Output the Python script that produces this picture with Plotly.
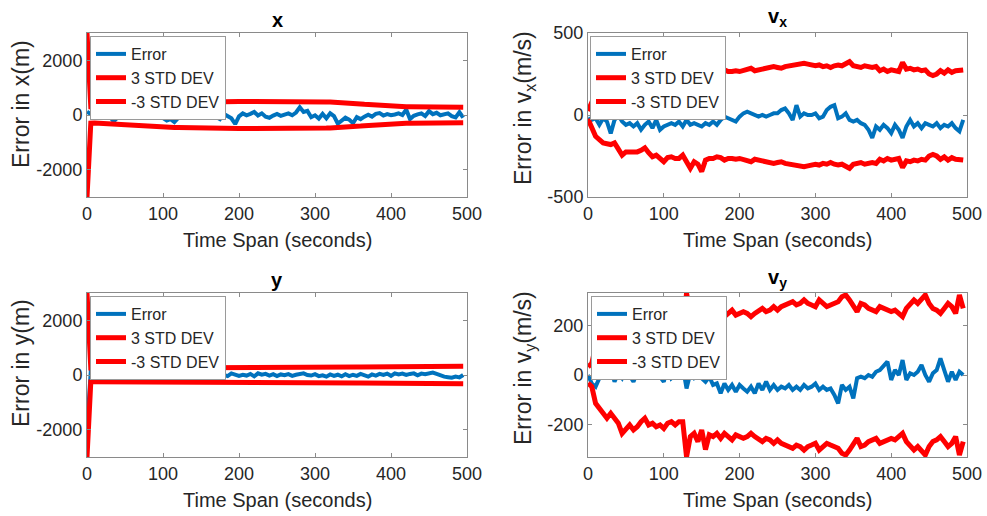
import plotly.graph_objects as go

# Sample times (s)
t = list(range(0, 500, 5))

# Tick labels (plain hyphen for negatives)
time_ticks = [0, 100, 200, 300, 400, 500]
pos_ticks = [-2000, 0, 2000]
pos_tick_text = ["-2000", "0", "2000"]
vx_ticks = [-500, 0, 500]
vx_tick_text = ["-500", "0", "500"]
vy_ticks = [-200, 0, 200]
vy_tick_text = ["-200", "0", "200"]

# ---- position x ----
x_err = [120, 20, -60, -30, -90, 10, -60, -240, -80, 40,
         -20, 50, 80, 20, 100, -30, 110, 60, 180, -20,
         -110, -200, -150, -260, -110, 60, -40, 30, 90, -20,
         120, 240, 60, -30, -70, -150, 40, -60, -120, -330,
         -50, 60, -10, 40, 110, -20, 60, -60, -100, -20,
         40, -30, 20, 60, -10, 90, 280, 110, 150, -80,
         -10, -130, 40, -120, 60, -40, -320, -190, -100, -170,
         -300, -80, -150, -60, 10, -60, 40, 70, -20, 30,
         -10, 20, 60, 0, 200, -150, -30, 20, 60, -40,
         140, 30, 80, -10, 30, 60, -40, -90, 100, -100]
x_std3 = [3000, 300, 290, 300, 310, 320, 330, 340, 350, 360,
          370, 380, 390, 400, 405, 410, 420, 425, 430, 435,
          440, 445, 450, 455, 460, 465, 470, 472, 474, 476,
          478, 480, 482, 484, 486, 488, 490, 492, 494, 495,
          496, 497, 498, 499, 500, 500, 501, 502, 503, 503,
          504, 504, 504, 503, 502, 500, 498, 496, 494, 492,
          490, 486, 482, 478, 474, 470, 465, 458, 450, 440,
          430, 418, 405, 392, 380, 368, 357, 347, 338, 330,
          324, 318, 313, 309, 305, 302, 300, 298, 296, 294,
          292, 291, 290, 289, 288, 287, 286, 285, 285, 285]

# ---- velocity vx ----
vx_err = [-20, -30, -20, -60, -20, -40, -112, -30, 0, -40,
          -60, -50, -70, -50, -90, -60, -40, -80, -30, -90,
          -70, -60, -50, -60, -40, -70, -30, -60, -50, -60,
          -70, -50, -60, -40, -60, -30, -10, -20, -30, -40,
          -10, 10, 20, 10, 0, -10, 0, -10, 0, 10,
          10, 30, 40, 10, -30, 60, -10, 10, 0, 0,
          10, -20, -10, 30, 50, 60, -20, -10, 10, -30,
          -40, -30, -50, -60, -90, -140, -70, -90, -60, -80,
          -110, -60, -90, -140, -70, -30, -70, -50, -80, -50,
          -60, -70, -50, -80, -60, -70, -50, -80, -100, -30]
vx_std3 = [25, 80, 130, 150, 170, 175, 180, 170, 210, 245,
           225, 225, 225, 225, 215, 200, 230, 255, 245, 270,
           285, 260, 255, 265, 265, 245, 290, 325, 285, 300,
           345, 275, 265, 265, 255, 260, 275, 265, 265, 270,
           265, 270, 275, 285, 270, 275, 280, 285, 290, 295,
           290, 285, 295, 300, 300, 305, 310, 315, 310, 305,
           300, 305, 295, 300, 290, 300, 305, 300, 315, 325,
           300, 295, 290, 300, 295, 290, 295, 270, 280, 265,
           275, 270, 265, 320, 280, 285, 275, 280, 270, 275,
           250, 240, 250, 270, 255, 275, 260, 270, 275, 275]

# ---- position y ----
y_err = [-2000, 150, 100, 0, 100, -50, 80, -20, 60, 120,
         0, 30, 60, -10, 50, 20, 40, 80, 30, -40,
         50, -30, 20, -60, 10, 200, 150, 100, 180, 70,
         120, 40, 80, 10, -60, 50, 20, -40, 60, 0,
         -30, 10, -20, 40, -50, 60, 10, 40, -20, 30,
         -40, 20, -10, 30, -30, 10, 20, 60, 0, -20,
         30, -40, -10, -60, 20, -30, 10, -50, 30, -40,
         10, -30, 40, 0, -60, 20, -20, 40, 0, 50,
         -30, 60, 20, 50, 0, 40, 60, -10, 50, 30,
         60, 90, 40, -20, -60, -80, -100, -60, -90, 0]
y_std3 = [3000, 250, 245, 245, 245, 245, 246, 246, 247, 247,
          248, 248, 249, 249, 250, 250, 251, 251, 252, 252,
          253, 253, 254, 254, 255, 255, 256, 256, 257, 257,
          258, 258, 259, 259, 260, 260, 261, 261, 262, 262,
          263, 263, 264, 264, 265, 265, 266, 267, 268, 269,
          270, 271, 272, 273, 274, 275, 276, 277, 278, 279,
          280, 281, 282, 283, 284, 285, 286, 287, 288, 289,
          290, 291, 292, 293, 294, 295, 296, 297, 298, 299,
          300, 301, 302, 303, 304, 305, 306, 307, 308, 309,
          310, 311, 312, 313, 314, 315, 316, 317, 318, 319]

# ---- velocity vy ----
vy_err = [0, -34, -47, -13, 0, 7, 27, -27, 7, -13,
          20, -7, -27, 13, 0, 0, 7, -7, 0, -7,
          -27, 34, -13, 0, -7, 34, -54, 7, -13, -7,
          -13, -27, -7, -40, -34, -74, -34, -60, -40, -67,
          -40, -54, -67, -47, -74, -34, -60, -27, -60, -40,
          -60, -47, -54, -40, -60, -47, -60, -40, -54, -47,
          -34, -60, -47, -60, -54, -80, -114, -40, -60, -47,
          -94, -13, -7, -13, 0, -7, 13, 20, 40, 54,
          -20, 20, 0, 60, -20, 7, 0, 13, 40, 0,
          -27, 7, 20, 67, 20, -27, 13, -20, 13, 0]
vy_std3 = [33, 47, 114, 134, 161, 174, 154, 174, 194, 235,
           221, 201, 221, 208, 188, 174, 201, 194, 208, 201,
           215, 194, 188, 201, 188, 188, 329, 248, 235, 268,
           221, 300, 241, 248, 235, 255, 235, 248, 261, 241,
           248, 255, 248, 235, 248, 261, 268, 255, 261, 275,
           261, 275, 282, 288, 295, 282, 288, 302, 288, 282,
           275, 302, 288, 275, 282, 288, 295, 315, 322, 302,
           275, 255, 288, 282, 268, 261, 255, 275, 268, 261,
           255, 261, 248, 235, 268, 288, 302, 288, 308, 322,
           288, 268, 261, 248, 268, 288, 275, 248, 322, 268]

W, H = 987, 516
BLUE = "#0072BD"
RED = "#FF0000"
FONT = "Liberation Sans, Arial, sans-serif"
TXT = "#262626"
AX = "#8a8a8a"


def px(x):
    return x / W


def py(y):
    return 1 - y / H


panels = [
    # (error, std3, title, ylabel, yrange, yticks, yticktext,
    #  xdom, ydom, legend origin, ylabel pos, title y)
    (x_err, x_std3, "<b>x</b>", "Error in x(m)", [-3000, 3000], pos_ticks, pos_tick_text,
     (87, 467), (33, 197), (90, 36), (21, 104), 20),
    (vx_err, vx_std3, "<b>v<sub>x</sub></b>", "Error in v<sub>x</sub>(m/s)", [-500, 500],
     vx_ticks, vx_tick_text, (588, 967), (33, 197), (590, 36), (524, 108), 18),
    (y_err, y_std3, "<b>y</b>", "Error in y(m)", [-3000, 3000], pos_ticks, pos_tick_text,
     (87, 467), (293, 457), (90, 296), (21, 363), 280),
    (vy_err, vy_std3, "<b>v<sub>y</sub></b>", "Error in v<sub>y</sub>(m/s)", [-330, 330],
     vy_ticks, vy_tick_text, (588, 967), (293, 457), (591, 296), (524, 368), 278),
]

fig = go.Figure()
annotations = []
layout = {}

for i, (err, std3, title, ylab, yr, yt, ytt, xd, yd, lg, ylpos, ttl_y) in enumerate(panels, start=1):
    xa = "x" if i == 1 else f"x{i}"
    ya = "y" if i == 1 else f"y{i}"
    lgname = "legend" if i == 1 else f"legend{i}"
    neg = [-v for v in std3]
    fig.add_trace(go.Scatter(x=t, y=err, mode="lines", name="Error",
                             line=dict(color=BLUE, width=4), xaxis=xa, yaxis=ya,
                             legend=lgname))
    fig.add_trace(go.Scatter(x=t, y=std3, mode="lines", name="3 STD DEV",
                             line=dict(color=RED, width=5), xaxis=xa, yaxis=ya,
                             legend=lgname))
    fig.add_trace(go.Scatter(x=t, y=neg, mode="lines", name="-3 STD DEV",
                             line=dict(color=RED, width=5), xaxis=xa, yaxis=ya,
                             legend=lgname))

    common = dict(showline=True, mirror="allticks", linecolor=AX, linewidth=1,
                  ticks="inside", ticklen=4, tickcolor=AX, showgrid=False,
                  zeroline=False, automargin=False,
                  tickfont=dict(family=FONT, size=18, color=TXT))
    layout[f"xaxis{'' if i == 1 else i}"] = dict(
        domain=[px(xd[0]), px(xd[1])], range=[0, 500],
        tickvals=time_ticks, ticktext=[str(v) for v in time_ticks], anchor=ya, **common)
    layout[f"yaxis{'' if i == 1 else i}"] = dict(
        domain=[py(yd[1]), py(yd[0])], range=yr, tickvals=yt, ticktext=ytt,
        anchor=xa, **common)
    layout[lgname] = dict(
        x=px(lg[0]), y=py(lg[1]), xanchor="left", yanchor="top",
        bgcolor="white", bordercolor="#9a9a9a", borderwidth=1,
        font=dict(family=FONT, size=16, color=TXT), itemwidth=30,
        tracegroupgap=0)

    xc = px((xd[0] + xd[1]) / 2)
    annotations.append(dict(text=title, x=xc, y=py(ttl_y), xref="paper", yref="paper",
                            showarrow=False, xanchor="center", yanchor="middle",
                            font=dict(family=FONT, size=20, color="black")))
    annotations.append(dict(text="Time Span (seconds)", x=xc, y=py(yd[1] + 43),
                            xref="paper", yref="paper", showarrow=False,
                            xanchor="center", yanchor="middle",
                            font=dict(family=FONT, size=20, color=TXT)))
    annotations.append(dict(text=ylab, x=px(ylpos[0]), y=py(ylpos[1]),
                            xref="paper", yref="paper", showarrow=False,
                            textangle=-90, xanchor="center", yanchor="middle",
                            font=dict(family=FONT, size=23, color=TXT)))

fig.update_layout(
    width=W, height=H,
    margin=dict(l=0, r=0, t=0, b=0, pad=0, autoexpand=False),
    paper_bgcolor="white", plot_bgcolor="white",
    annotations=annotations, showlegend=True, **layout)

# The figure fills the page exactly, so drop the default body margin.
fig.write_html(
    "out.html",
    post_script="document.body.style.margin='0';document.body.style.overflow='hidden';",
)
